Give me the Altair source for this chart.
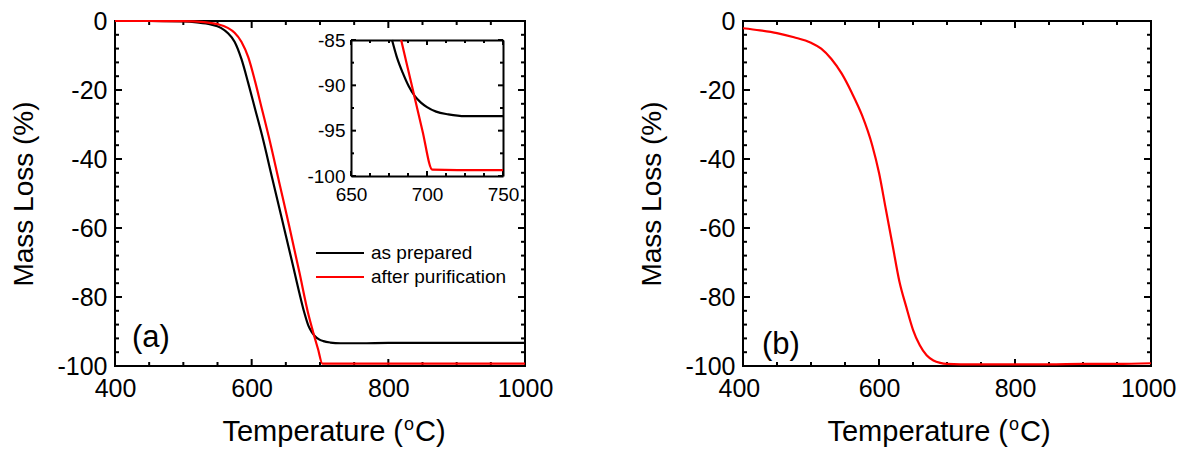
import altair as alt
import pandas as pd

# ---------------- data ----------------
series = ["as prepared", "after purification"]
colors = ["#000000", "#ff0000"]

# panel (a), main view
a_T_prepared = [400, 450, 500, 520, 540, 555, 565, 575, 585, 595, 605, 615, 630, 645, 660, 670,
                677, 683, 688, 692, 698, 705, 715, 730, 760, 800, 900, 1000]
a_M_prepared = [0, 0, -0.1, -0.4, -1.0, -2.0, -3.5, -6.0, -11.0, -18.0, -25.5, -33.0, -45.5, -58.0,
                -70.5, -79.0, -84.5, -88.3, -90.2, -91.2, -92.2, -92.8, -93.2, -93.4, -93.4, -93.3,
                -93.3, -93.3]
a_T_purified = [400, 450, 500, 530, 550, 565, 575, 585, 595, 605, 615, 625, 640, 655, 670, 683,
                690, 697, 703.5, 750, 800, 900, 1000]
a_M_purified = [0, 0, -0.05, -0.3, -0.9, -2.0, -3.4, -6.0, -10.5, -17.5, -25.5, -33.5, -46.5,
                -59.5, -73.0, -85.0, -90.2, -95.0, -99.3, -99.3, -99.3, -99.3, -99.3]

# panel (a), inset view
in_T_prepared = [677, 680, 684, 688, 692, 696, 700, 706, 714, 725, 740, 750]
in_M_prepared = [-85.0, -86.8, -88.6, -90.1, -91.2, -91.9, -92.4, -92.9, -93.2, -93.4, -93.4, -93.4]
in_T_purified = [683, 690, 697, 703.5, 720, 750]
in_M_purified = [-85.0, -90.0, -95.0, -99.3, -99.35, -99.35]

# panel (b)
b_T = [400, 425, 450, 475, 500, 515, 530, 545, 560, 575, 590, 600, 610, 620, 630, 640, 650, 660,
       670, 680, 690, 700, 720, 750, 800, 850, 900, 950, 1000]
b_M = [-2.1, -2.7, -3.5, -4.7, -6.3, -8.0, -11.0, -15.2, -20.8, -27.3, -36.0, -44.0, -54.5, -65.0,
       -75.5, -82.8, -89.5, -94.0, -96.9, -98.4, -99.1, -99.4, -99.5, -99.5, -99.5, -99.5, -99.4,
       -99.4, -99.2]

# axes
x_domain = [400, 1000]
y_domain = [-100, 0]
x_major = [400, 600, 800, 1000]
x_minor = [450, 500, 550, 650, 700, 750, 850, 900, 950]
y_major = [0, -20, -40, -60, -80, -100]
y_minor = [-4, -8, -12, -16, -24, -28, -32, -36, -44, -48, -52, -56, -64, -68, -72, -76,
           -84, -88, -92, -96]
in_x_domain = [650, 750]
in_y_domain = [-100, -85]
in_x_major = [650, 700, 750]
in_x_minor = [662.5, 675, 687.5, 712.5, 725, 737.5]
in_y_major = [-100, -95, -90, -85]
in_y_minor = [-97.5, -92.5, -87.5]

# ---------------- layout constants ----------------
W_A, W_B, H = 410, 408, 345
IN_L, IN_R, IN_T, IN_B = 236, 388, 19, 155   # inset box inside panel (a), pixels
MAJ, MIN = 7, 4
IMAJ, IMIN = 5, 3
TICK_W = 2
FONT = "Liberation Sans"
LABEL_EXPR = "(datum.value < 0 ? '-' : '') + format(abs(datum.value), 'd')"


def df_of(T, M, name):
    return pd.DataFrame({"T": T, "M": M, "series": name})


def xticks(values, xs, y0, y1):
    return alt.Chart(pd.DataFrame({"v": values})).mark_rule(
        color="black", strokeWidth=TICK_W).encode(
        x=alt.X("v:Q", scale=xs, axis=None), y=alt.value(y0), y2=alt.value(y1))


def yticks(values, ys, x0, x1):
    return alt.Chart(pd.DataFrame({"v": values})).mark_rule(
        color="black", strokeWidth=TICK_W).encode(
        y=alt.Y("v:Q", scale=ys, axis=None), x=alt.value(x0), x2=alt.value(x1))


def inward_ticks(xs, ys, xmaj, xmin, ymaj, ymin, left, right, top, bottom, big, small):
    return [
        xticks(xmaj, xs, top, top + big), xticks(xmaj, xs, bottom - big, bottom),
        xticks(xmin, xs, top, top + small), xticks(xmin, xs, bottom - small, bottom),
        yticks(ymaj, ys, left, left + big), yticks(ymaj, ys, right - big, right),
        yticks(ymin, ys, left, left + small), yticks(ymin, ys, right - small, right),
    ]


color_enc = alt.Color("series:N", scale=alt.Scale(domain=series, range=colors), legend=None)


def main_lines(df, xs, ys, flush):
    return alt.Chart(df).mark_line(strokeWidth=2.2, interpolate="monotone").encode(
        x=alt.X("T:Q", scale=xs,
                axis=alt.Axis(orient="bottom", values=x_major, ticks=False, grid=False,
                              domain=False, title=None, labelPadding=10, labelFlush=flush,
                              labelFlushOffset=25, labelOverlap=False, labelExpr=LABEL_EXPR)),
        y=alt.Y("M:Q", scale=ys,
                axis=alt.Axis(orient="left", values=y_major, ticks=False, grid=False,
                              domain=False, title="Mass Loss (%)", labelPadding=8,
                              titlePadding=18, labelOverlap=False, labelExpr=LABEL_EXPR)),
        color=color_enc,
        detail="series:N",
    )


def x_title_layers(cx):
    base = 420
    t1 = alt.Chart(pd.DataFrame({"t": ["Temperature ("]})).mark_text(
        align="right", baseline="alphabetic", fontSize=29, font=FONT, color="black").encode(
        x=alt.value(cx + 71), y=alt.value(base), text="t:N")
    t2 = alt.Chart(pd.DataFrame({"t": ["o"]})).mark_text(
        align="left", baseline="alphabetic", fontSize=18, font=FONT, color="black").encode(
        x=alt.value(cx + 72), y=alt.value(base - 11), text="t:N")
    t3 = alt.Chart(pd.DataFrame({"t": ["C)"]})).mark_text(
        align="left", baseline="alphabetic", fontSize=29, font=FONT, color="black").encode(
        x=alt.value(cx + 83), y=alt.value(base), text="t:N")
    return [t1, t2, t3]


def panel_label(text, x, y):
    return alt.Chart(pd.DataFrame({"t": [text]})).mark_text(
        align="left", baseline="alphabetic", fontSize=31, font=FONT, color="black").encode(
        x=alt.value(x), y=alt.value(y), text="t:N")


xs_main = alt.Scale(domain=x_domain, nice=False, zero=False)
ys_main = alt.Scale(domain=y_domain, nice=False, zero=False)

# ---------------- panel (a) ----------------
df_a = pd.concat([df_of(a_T_prepared, a_M_prepared, series[0]),
                  df_of(a_T_purified, a_M_purified, series[1])])
lines_a = main_lines(df_a, xs_main, ys_main, False)
ticks_a = inward_ticks(xs_main, ys_main, x_major, x_minor, y_major, y_minor,
                       0, W_A, 0, H, MAJ, MIN)

# inset
df_in = pd.concat([df_of(in_T_prepared, in_M_prepared, series[0]),
                   df_of(in_T_purified, in_M_purified, series[1])])
xs_in = alt.Scale(domain=in_x_domain, range=[IN_L, IN_R], nice=False, zero=False)
ys_in = alt.Scale(domain=in_y_domain, range=[IN_B, IN_T], nice=False, zero=False)
inset_lines = alt.Chart(df_in).mark_line(strokeWidth=2.2, interpolate="monotone").encode(
    x=alt.X("T:Q", scale=xs_in,
            axis=alt.Axis(orient="bottom", offset=IN_B - H, values=in_x_major, ticks=False,
                          grid=False, domain=True, domainColor="black", domainWidth=2,
                          title=None, labelFontSize=19, labelPadding=9, labelFlush=False,
                          labelOverlap=False, labelExpr=LABEL_EXPR)),
    y=alt.Y("M:Q", scale=ys_in,
            axis=alt.Axis(orient="left", offset=-IN_L, values=in_y_major, ticks=False,
                          grid=False, domain=True, domainColor="black", domainWidth=2,
                          title=None, labelFontSize=19, labelPadding=6, labelOverlap=False,
                          labelExpr=LABEL_EXPR)),
    color=color_enc,
    detail="series:N",
)
inset_box = alt.Chart(df_in).mark_line(strokeOpacity=0).encode(
    x=alt.X("T:Q", scale=xs_in,
            axis=alt.Axis(orient="bottom", offset=IN_T - H, domain=True, domainColor="black",
                          domainWidth=2, ticks=False, labels=False, grid=False, title=None,
                          values=in_x_major)),
    y=alt.Y("M:Q", scale=ys_in,
            axis=alt.Axis(orient="left", offset=-IN_R, domain=True, domainColor="black",
                          domainWidth=2, ticks=False, labels=False, grid=False, title=None,
                          values=in_y_major)),
)
ticks_in = inward_ticks(xs_in, ys_in, in_x_major, in_x_minor, in_y_major, in_y_minor,
                        IN_L, IN_R, IN_T, IN_B, IMAJ, IMIN)

# legend
leg_df = pd.DataFrame({"series": series})
leg_y = alt.Y("series:N", scale=alt.Scale(type="point", domain=series, range=[232, 256], padding=0),
              axis=None)
leg_rule = alt.Chart(leg_df).mark_rule(strokeWidth=2.2).encode(
    x=alt.value(201), x2=alt.value(249), y=leg_y, color=color_enc)
leg_text = alt.Chart(leg_df).mark_text(align="left", baseline="middle", fontSize=19, font=FONT,
                                       color="black").encode(
    x=alt.value(256), y=leg_y, text="series:N")

panel_a = alt.layer(
    *ticks_a, lines_a, *ticks_in, inset_lines, inset_box, leg_rule, leg_text,
    panel_label("(a)", 17, 326), *x_title_layers(217),
).resolve_scale(x="independent", y="independent").resolve_axis(
    x="independent", y="independent").properties(width=W_A, height=H)

# ---------------- panel (b) ----------------
df_b = df_of(b_T, b_M, series[1])
lines_b = main_lines(df_b, xs_main, ys_main, True)
ticks_b = inward_ticks(xs_main, ys_main, x_major, x_minor, y_major, y_minor,
                       0, W_B, 0, H, MAJ, MIN)
panel_b = alt.layer(
    *ticks_b, lines_b, panel_label("(b)", 19, 333), *x_title_layers(194),
).resolve_scale(x="independent", y="independent").resolve_axis(
    x="independent", y="independent").properties(width=W_B, height=H)

chart = alt.hconcat(panel_a, panel_b, spacing=83).properties(
    padding={"left": 1, "top": 0, "right": 0, "bottom": 0}
).configure(font=FONT).configure_view(
    stroke="black", strokeWidth=2
).configure_axis(
    labelFont=FONT, labelFontSize=25, labelColor="black",
    titleFont=FONT, titleFontSize=28, titleFontWeight="normal", titleColor="black",
)

chart.save("out.html", embed_options={"renderer": "svg", "actions": False})
